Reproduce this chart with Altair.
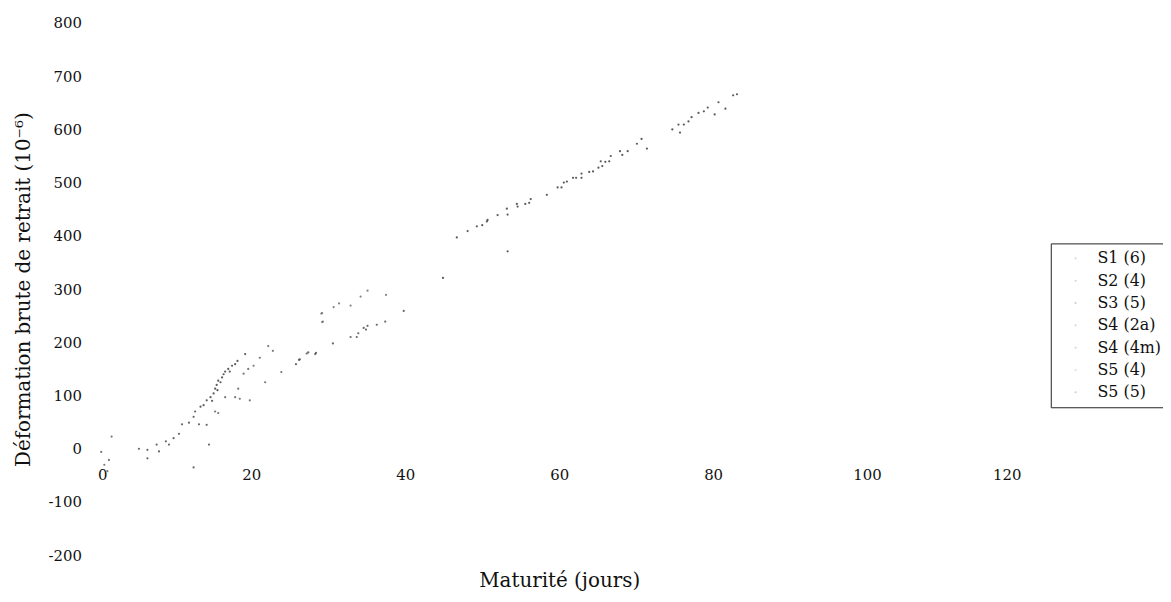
import altair as alt
import pandas as pd

series_names = ["S1 (6)", "S2 (4)", "S3 (5)", "S4 (2a)", "S4 (4m)", "S5 (4)", "S5 (5)"]

s1_x = [1.85, 0.5, 1.5, 1.3, 0.9]
s1_y = [23, -6, -21, -42, -30]

s2_x = [5.4, 6.5, 6.5, 7.7, 8.0, 8.9, 9.3, 9.9, 10.6, 11.0, 11.9, 12.5, 12.7, 13.2, 14.2, 14.5, 12.5]
s2_y = [0, -2, -18, 8, -5, 14, 8, 20, 28, 46, 49, 60, 70, 46, 45, 8, -35]

s3_x = [13.4, 13.8, 14.2, 14.7, 15.1, 15.3, 15.5, 15.7, 16.2, 16.6, 17.0, 17.5, 17.9, 19.2,
        14.9, 15.6, 16.0, 16.4, 17.2, 18.2]
s3_y = [79, 82, 91, 97, 104, 113, 120, 128, 134, 145, 150, 156, 159, 178,
        90, 110, 125, 140, 145, 165]

s4a_x = [15.3, 15.7, 16.6, 17.9, 18.5, 19.8, 18.3, 19.0, 19.6, 20.3, 21.1, 22.2, 22.8, 21.8, 23.9]
s4a_y = [70, 67, 97, 97, 94, 91, 113, 141, 150, 156, 171, 193, 184, 125, 144]

s4m_x = [25.8, 26.2, 27.2, 28.3, 30.6, 32.9, 33.7, 33.9, 34.6, 34.9, 35.1, 36.3, 37.4, 39.8,
         26.3, 27.4, 28.4]
s4m_y = [159, 167, 179, 178, 198, 210, 210, 217, 227, 224, 231, 233, 239, 259,
         168, 181, 180]

s54_x = [29.1, 29.3, 29.2, 29.2, 30.7, 31.4, 32.9, 34.2, 35.1, 37.5]
s54_y = [254, 239, 255, 238, 266, 273, 269, 286, 297, 289]

s55_x = [44.9, 46.7, 48.1, 49.3, 50.0, 50.6, 50.7, 52.0, 53.2, 53.3, 53.3, 54.5, 54.6, 55.6,
         56.1, 56.3, 58.4, 59.8, 60.3, 60.6, 61.0, 61.8, 62.2, 62.9, 62.9, 63.9, 64.4, 65.1,
         65.6, 65.4, 66.0, 66.5, 66.7, 67.9, 68.2, 68.9, 70.1, 70.7, 71.4, 74.7, 75.5, 75.7,
         76.2, 76.8, 77.2, 78.1, 78.8, 79.3, 80.2, 80.7, 81.6, 82.6, 83.1]
s55_y = [321, 397, 409, 418, 420, 427, 430, 439, 451, 440, 371, 460, 455, 460,
         462, 469, 477, 491, 491, 500, 502, 509, 509, 509, 517, 520, 521, 528,
         531, 540, 539, 540, 550, 559, 552, 559, 573, 582, 564, 600, 609, 594,
         609, 615, 623, 631, 634, 641, 628, 651, 639, 664, 666]

x_ticks = [0, 20, 40, 60, 80, 100, 120]
y_ticks = [-200, -100, 0, 100, 200, 300, 400, 500, 600, 700, 800]

groups = [(s1_x, s1_y), (s2_x, s2_y), (s3_x, s3_y), (s4a_x, s4a_y),
          (s4m_x, s4m_y), (s54_x, s54_y), (s55_x, s55_y)]
rows = []
for name, (xs, ys) in zip(series_names, groups):
    for a, b in zip(xs, ys):
        rows.append({"Maturite": a, "Deformation": b, "Serie": name})
df = pd.DataFrame(rows)

FONT = "DejaVu Serif"

chart = alt.Chart(df).mark_point(filled=True, size=5, opacity=0.8).encode(
    x=alt.X("Maturite:Q",
            scale=alt.Scale(domain=[0, 120], nice=False, zero=False),
            axis=alt.Axis(values=x_ticks, title="Maturité (jours)", grid=False,
                          ticks=False, domain=False, offset=-90, labelPadding=2,
                          labelExpr="datum.value",
                          labelFont=FONT, labelFontSize=15, labelColor="#111",
                          titleFont=FONT, titleFontSize=20, titleFontWeight="normal",
                          titleColor="#111", titleX=465, titleY=121,
                          titleBaseline="alphabetic", titleAlign="center")),
    y=alt.Y("Deformation:Q",
            scale=alt.Scale(domain=[-200, 800], nice=False, zero=False),
            axis=alt.Axis(values=y_ticks, title="Déformation brute de retrait (10⁻⁶)",
                          grid=False, ticks=False, domain=False, labelPadding=16,
                          labelExpr="datum.value",
                          labelFont=FONT, labelFontSize=15, labelColor="#111",
                          titleFont=FONT, titleFontSize=20, titleFontWeight="normal",
                          titleColor="#111", titleX=-68, titleY=268, titleAngle=-90,
                          titleBaseline="alphabetic", titleAlign="center")),
    color=alt.Color("Serie:N",
                    scale=alt.Scale(domain=series_names,
                                    range=["#555555", "#444444", "#333333", "#555555",
                                           "#444444", "#666666", "#333333"]),
                    sort=series_names,
                    legend=alt.Legend(title=None, orient="none", legendX=960, legendY=222,
                                      strokeColor="#222", padding=7, rowPadding=6.5,
                                      symbolType="circle", symbolSize=4, symbolOpacity=0.25,
                                      symbolOffset=10, labelOffset=14,
                                      labelFont=FONT, labelFontSize=16, labelColor="#111")),
).properties(
    width=930,
    height=536,
    autosize=alt.AutoSizeParams(type="none"),
    padding={"left": 90, "top": 13, "right": 143, "bottom": 37},
    background="white",
).configure_view(stroke=None)

chart.save("out.html", embed_options={"renderer": "svg", "actions": False})
